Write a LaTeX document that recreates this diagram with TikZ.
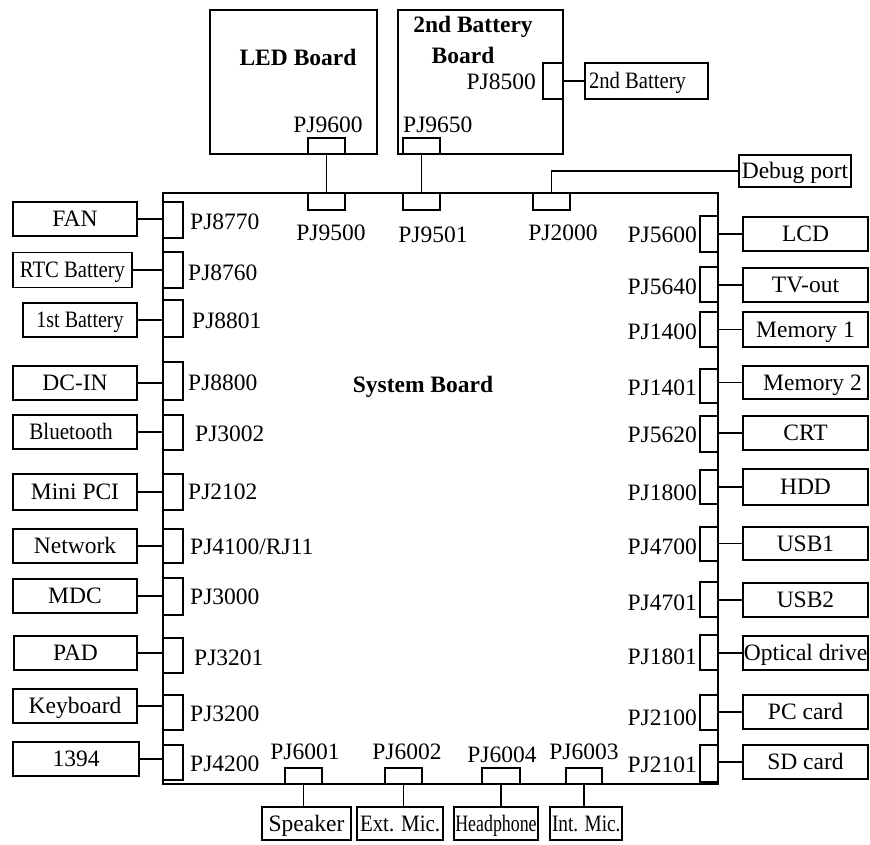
\documentclass[tikz,border=0pt]{standalone}
\usepackage{fontspec}
\setmainfont{Liberation Serif}
\usepackage{graphicx}
\tikzset{
  box/.style={draw, line width=1.5pt, inner sep=0pt, minimum width=124pt, minimum height=34pt, text height=15.5pt, text depth=0pt},
  conn/.style={draw, line width=1.5pt, inner sep=0pt},
  lbl/.style={inner sep=0pt},
  wire/.style={line width=1.5pt},
}
\newcommand\mybox[6]{\node[box, minimum width=#4pt, minimum height=#5pt] (#1) at (#2,#3) {#6};}
\newcommand\myconn[5]{\node[conn, minimum width=#4pt, minimum height=#5pt] (#1) at (#2,#3) {};}
\begin{document}
\begin{tikzpicture}[x=1pt,y=-1pt, font=\fontsize{23.5}{28}\selectfont]
\useasboundingbox (0,0) rectangle (870,844);
% system board
\node[draw, line width=1.5pt, minimum width=555pt, minimum height=591pt, inner sep=0pt] (board) at (440.5,488.5) {};
\node[lbl, font=\fontsize{23.5}{28}\selectfont\bfseries] (sbt) at (423,387) {System Board};
% LED board
\node[draw, line width=1.5pt, minimum width=167pt, minimum height=144pt, inner sep=0pt] (led) at (293.5,82) {};
\node[lbl, font=\fontsize{23.5}{28}\selectfont\bfseries] (ledt) at (298,57) {LED Board};
\node[lbl] (l9600) at (328,125) {PJ9600};
\myconn{c9600}{326.5}{146}{37}{16}
% 2nd battery board
\node[draw, line width=1.5pt, minimum width=165pt, minimum height=144pt, inner sep=0pt] (bb) at (480.5,82) {};
\node[lbl, font=\fontsize{23.5}{28}\selectfont\bfseries] (bbt1) at (473,27) {2nd Battery};
\node[lbl, font=\fontsize{23.5}{28}\selectfont\bfseries] (bbt2) at (463,55) {Board};
\node[lbl, anchor=west] (l9650) at (403,125) {PJ9650};
\myconn{c9650}{421.5}{146}{37}{16}
\node[lbl, anchor=east] (l8500) at (536,82) {PJ8500};
\myconn{c8500}{553}{81}{20}{36}
\mybox{bat2}{646.5}{81}{123}{36}{\makebox[115pt][l]{\scalebox{0.88}[1]{2nd Battery}}}
\draw[wire] (c8500.east) -- (bat2.west);
% top connectors of system board
\myconn{c9500}{326.5}{201.5}{37}{17}
\myconn{c9501}{421.5}{201.5}{37}{17}
\myconn{c2000}{551.5}{201.5}{37}{17}
\node[lbl] (l9500) at (331,233) {PJ9500};
\node[lbl] (l9501) at (433,235) {PJ9501};
\node[lbl] (l2000) at (563,233) {PJ2000};
\draw[wire] (c9600.south) -- (c9500.north);
\draw[wire] (c9650.south) -- (c9501.north);
\mybox{dbg}{795}{171}{112}{32}{Debug port}
\draw[wire] (c2000.north) |- (dbg.west);
% left side
\mybox{fan}{75}{219}{124}{34}{FAN}
\mybox{rtc}{72.5}{270}{119}{35}{\scalebox{0.88}[1]{RTC Battery}}
\mybox{bat1}{80}{320}{114}{34}{\scalebox{0.85}[1]{1st Battery}}
\mybox{dcin}{75}{383}{124}{34}{DC-IN}
\mybox{bt}{75}{432}{124}{34}{\scalebox{0.9}[1]{Bluetooth}\hspace*{8pt}}
\mybox{mpci}{75}{492}{124}{36}{Mini PCI}
\mybox{net}{75}{546}{124}{34}{Network}
\mybox{mdc}{75}{596}{124}{34}{MDC}
\mybox{pad}{75.5}{653}{123}{34}{PAD}
\mybox{kbd}{75}{706}{124}{34}{Keyboard}
\mybox{fw}{76}{759}{126}{34}{1394}
\myconn{c8770}{173}{220}{20}{36}
\myconn{c8760}{173}{270}{20}{36}
\myconn{c8801}{173}{318.5}{20}{37}
\myconn{c8800}{173}{381}{20}{38}
\myconn{c3002}{173}{432.5}{20}{35}
\myconn{c2102}{173}{492}{20}{36}
\myconn{c4100}{173}{546}{20}{34}
\myconn{c3000}{173}{596.5}{20}{37}
\myconn{c3201}{173}{655.5}{20}{35}
\myconn{c3200}{173}{712.5}{20}{35}
\myconn{c4200}{173}{762.5}{20}{35}
\node[lbl, anchor=west] (l8770) at (190,222) {PJ8770};
\node[lbl, anchor=west] (l8760) at (188,273) {PJ8760};
\node[lbl, anchor=west] (l8801) at (192,321) {PJ8801};
\node[lbl, anchor=west] (l8800) at (188,383) {PJ8800};
\node[lbl, anchor=west] (l3002) at (195,434) {PJ3002};
\node[lbl, anchor=west] (l2102) at (188,492) {PJ2102};
\node[lbl, anchor=west] (l4100) at (190,547) {PJ4100/RJ11};
\node[lbl, anchor=west] (l3000) at (190,597) {PJ3000};
\node[lbl, anchor=west] (l3201) at (194,658) {PJ3201};
\node[lbl, anchor=west] (l3200) at (190,714) {PJ3200};
\node[lbl, anchor=west] (l4200) at (190,764) {PJ4200};
\foreach \b/\c in {fan/c8770, rtc/c8760, bat1/c8801, dcin/c8800, bt/c3002, mpci/c2102, net/c4100, mdc/c3000, pad/c3201, kbd/c3200, fw/c4200}
  \draw[wire] (\b.east) -- (\b.east -| \c.west);
% right side
\mybox{lcd}{805.5}{234}{125}{34}{LCD}
\mybox{tv}{805.5}{285}{125}{34}{TV-out}
\mybox{mem1}{805.5}{329.5}{125}{35}{Memory 1}
\mybox{mem2}{805.5}{382.5}{125}{33}{\hspace*{14pt}Memory 2}
\mybox{crt}{805.5}{433}{125}{34}{CRT}
\mybox{hdd}{805.5}{487}{125}{36}{HDD}
\mybox{usb1}{805.5}{543.5}{125}{33}{USB1}
\mybox{usb2}{805.5}{600}{125}{34}{USB2}
\mybox{odd}{805.5}{653}{125}{34}{Optical drive}
\mybox{pcc}{805.5}{712}{125}{34}{PC card}
\mybox{sdc}{805.5}{762}{125}{34}{SD card}
\myconn{c5600}{709}{234}{18}{36}
\myconn{c5640}{709}{284.5}{18}{35}
\myconn{c1400}{709}{329.5}{18}{35}
\myconn{c1401}{709}{386}{18}{34}
\myconn{c5620}{709}{434}{18}{36}
\myconn{c1800}{709}{487}{18}{34}
\myconn{c4700}{709}{544}{18}{34}
\myconn{c4701}{709}{599.5}{18}{35}
\myconn{c1801}{709}{652.5}{18}{35}
\myconn{c2100}{709}{712.5}{18}{35}
\myconn{c2101}{709}{763.5}{18}{37}
\node[lbl, anchor=east] (l5600) at (697,235) {PJ5600};
\node[lbl, anchor=east] (l5640) at (697,287) {PJ5640};
\node[lbl, anchor=east] (l1400) at (697,332) {PJ1400};
\node[lbl, anchor=east] (l1401) at (697,388) {PJ1401};
\node[lbl, anchor=east] (l5620) at (697,435) {PJ5620};
\node[lbl, anchor=east] (l1800) at (697,493) {PJ1800};
\node[lbl, anchor=east] (l4700) at (697,547) {PJ4700};
\node[lbl, anchor=east] (l4701) at (697,603) {PJ4701};
\node[lbl, anchor=east] (l1801) at (697,657) {PJ1801};
\node[lbl, anchor=east] (l2100) at (697,718) {PJ2100};
\node[lbl, anchor=east] (l2101) at (697,765) {PJ2101};
\foreach \b/\c in {lcd/c5600, tv/c5640, mem1/c1400, mem2/c1401, crt/c5620, hdd/c1800, usb1/c4700, usb2/c4701, odd/c1801, pcc/c2100, sdc/c2101}
  \draw[wire] (\b.west) -- (\b.west -| \c.east);
% bottom
\myconn{c6001}{303.5}{776}{37}{16}
\myconn{c6002}{403.5}{776}{37}{16}
\myconn{c6004}{501}{776}{38}{16}
\myconn{c6003}{584}{776}{36}{16}
\node[lbl] (l6001) at (305,752) {PJ6001};
\node[lbl] (l6002) at (407,752) {PJ6002};
\node[lbl] (l6004) at (502,755) {PJ6004};
\node[lbl] (l6003) at (584,752) {PJ6003};
\mybox{spk}{306.5}{823.5}{89}{33}{Speaker}
\mybox{emic}{400}{823.5}{86}{33}{\makebox[80pt][l]{\scalebox{0.89}[1]{Ext. Mic.}}}
\mybox{hp}{496}{823.5}{84}{33}{\scalebox{0.76}[1]{Headphone}}
\mybox{imic}{586}{823.5}{72}{33}{\makebox[68pt][l]{\scalebox{0.82}[1]{Int. Mic.}}}
\foreach \c/\b in {c6001/spk, c6002/emic, c6004/hp, c6003/imic}
  \draw[wire] (\c.south) -- (\c.south |- \b.north);
\end{tikzpicture}
\end{document}
